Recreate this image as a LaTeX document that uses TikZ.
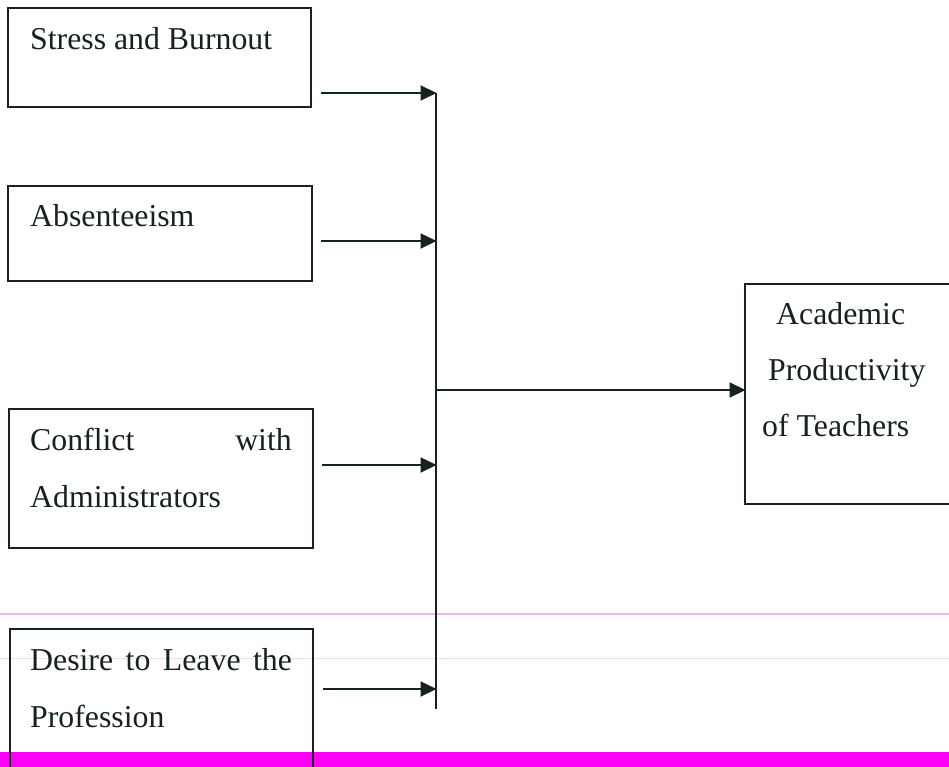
\documentclass[tikz,border=0pt]{standalone}
\usepackage{fontspec}
\setmainfont{Liberation Serif}
\usetikzlibrary{arrows.meta}
\definecolor{ink}{HTML}{16221D}
\definecolor{bar}{HTML}{FA00F5}
\definecolor{pinkline}{HTML}{F5B0EE}
\tikzset{
  box/.style={draw=ink, line width=1.7pt, inner sep=0pt, outer sep=0pt},
  lbl/.style={anchor=base west, inner sep=0pt, text=ink, font=\fontsize{31.8}{40}\selectfont},
  conn/.style={draw=ink, line width=2pt},
  arr/.style={conn, -{Triangle[length=16pt,width=15pt]}, shorten >=-0.5pt}
}
\begin{document}
\begin{tikzpicture}[x=1pt,y=-1pt]
\useasboundingbox (0,0) rectangle (949,767);
\fill[white] (0,0) rectangle (949,767);
\clip (0,0) rectangle (949,767);
% scanner artefacts
\fill[bar] (0,752) rectangle (949,767);
\draw[pinkline, line width=1.2pt] (0,614) -- (949,614);
\draw[pinkline!50, line width=0.8pt] (0,658) -- (949,658);
% boxes
\node[box, minimum width=303pt, minimum height=99pt] (b1) at (159.5,57.5) {};
\node[box, minimum width=304pt, minimum height=95pt] (b2) at (160,233.5) {};
\node[box, minimum width=304pt, minimum height=139pt] (b3) at (161,478.5) {};
\node[box, minimum width=303pt, minimum height=171pt] (b4) at (161.5,714.5) {};
\node[box, minimum width=220pt, minimum height=220pt] (b5) at (855,394) {};
% texts
\node[lbl] (t1) at (30,50) {Stress and Burnout};
\node[lbl] (t2) at (30,226) {Absenteeism};
\node[lbl] (t3a) at (30,450) {Conflict};
\node[lbl, anchor=base east] (t3b) at (292,450) {with};
\node[lbl] (t3c) at (30,507) {Administrators};
\node[lbl] (t4a) at (30,670) {Desire\hspace{12.5pt}to\hspace{12.5pt}Leave\hspace{12.5pt}the};
\node[lbl] (t4b) at (30,727) {Profession};
\node[lbl] (t5a) at (776,324) {Academic};
\node[lbl] (t5b) at (768,380) {Productivity};
\node[lbl] (t5c) at (762,436) {of Teachers};
% junction line
\coordinate (jtop) at (436,93);
\coordinate (jbot) at (436,709);
\coordinate (j1) at (436,93);
\coordinate (j2) at (436,241);
\coordinate (j3) at (436,465);
\coordinate (j4) at (436,689);
\coordinate (jm) at (436,390);
\draw[conn] (jtop) -- (jbot);
\draw[arr] ([xshift=10pt]b1.east |- j1) -- (j1);
\draw[arr] ([xshift=9pt]b2.east |- j2) -- (j2);
\draw[arr] ([xshift=9pt]b3.east |- j3) -- (j3);
\draw[arr] ([xshift=10pt]b4.east |- j4) -- (j4);
\draw[arr] (jm) -- (b5.west |- jm);
\end{tikzpicture}
\end{document}
